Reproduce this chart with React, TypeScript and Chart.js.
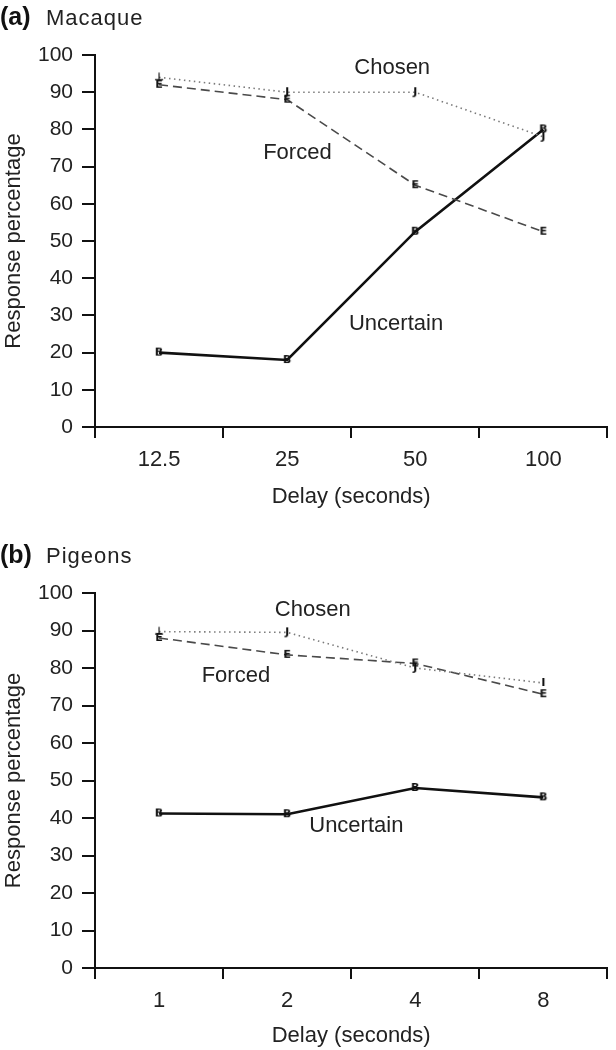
import React, { useEffect, useRef } from "react";
import { Chart, registerables } from "chart.js";

Chart.register(...registerables);

// ---- Data ----
const categoriesA = ["12.5", "25", "50", "100"];
const chosenA = [94, 90, 90, 78];
const forcedA = [92, 88, 65, 52.5];
const uncertainA = [20, 18, 52.5, 80];

const categoriesB = ["1", "2", "4", "8"];
const chosenB = [89.7, 89.5, 80, 76];
const forcedB = [88, 83.5, 81.2, 73];
const uncertainB = [41.2, 41, 48, 45.5];

const yTicks = [0, 10, 20, 30, 40, 50, 60, 70, 80, 90, 100];

const seriesNames = ["Chosen", "Forced", "Uncertain"];

// label anchors [category index, value]
const labelPosA = [
  [1.82, 96.5],
  [1.08, 73.6],
  [1.85, 27.6],
];
const labelPosB = [
  [1.2, 95.5],
  [0.6, 78],
  [1.54, 37.9],
];

const FONT = "'Liberation Sans', Arial, sans-serif";

function makeMarker(ch: string): HTMLCanvasElement {
  const c = document.createElement("canvas");
  c.width = 14;
  c.height = 14;
  const ctx = c.getContext("2d")!;
  ctx.fillStyle = "#111";
  ctx.font = "bold 11px 'DejaVu Sans', sans-serif";
  ctx.textAlign = "center";
  ctx.textBaseline = "middle";
  ctx.fillText(ch, 7, 7.5);
  return c;
}

type PanelProps = {
  top: number;
  height: number;
  chartTop: number;
  chartBottom: number;
  letter: string;
  name: string;
  titleBaseline: number;
  categories: string[];
  chosen: number[];
  forced: number[];
  uncertain: number[];
  labelPos: number[][];
  xTitlePad: number;
  chosenMarks: string[];
};

function Panel(p: PanelProps) {
  const ref = useRef<HTMLCanvasElement | null>(null);
  useEffect(() => {
    const canvas = ref.current!;
    const mE = makeMarker("E");
    const mB = makeMarker("B");
    const chosenStyles = p.chosenMarks.map((m) => makeMarker(m));

    const textPlugin = {
      id: "panelText",
      afterDatasetsDraw(chart: any) {
        const ctx = chart.ctx;
        const xs = chart.scales.x;
        const ys = chart.scales.y;
        ctx.save();
        ctx.fillStyle = "#222";
        ctx.font = `22px ${FONT}`;
        ctx.textAlign = "center";
        ctx.textBaseline = "middle";
        p.labelPos.forEach((pos, i) => {
          ctx.fillText(
            seriesNames[i],
            xs.getPixelForValue(pos[0]),
            ys.getPixelForValue(pos[1])
          );
        });
        ctx.textAlign = "left";
        ctx.textBaseline = "alphabetic";
        ctx.fillStyle = "#111";
        ctx.font = `bold 25px ${FONT}`;
        ctx.fillText(`(${p.letter})`, 0, p.titleBaseline);
        ctx.fillStyle = "#222";
        ctx.font = `22px ${FONT}`;
        try {
          (ctx as any).letterSpacing = "1px";
        } catch (e) {}
        ctx.fillText(p.name, 46, p.titleBaseline);
        ctx.restore();
      },
    };

    const chart = new Chart(canvas, {
      type: "line",
      data: {
        labels: p.categories,
        datasets: [
          {
            label: "Chosen",
            data: p.chosen,
            borderColor: "#7a7a7a",
            borderWidth: 1.6,
            borderDash: [1.5, 3.5],
            pointStyle: chosenStyles as any,
            pointRadius: 6,
            fill: false,
          },
          {
            label: "Forced",
            data: p.forced,
            borderColor: "#4a4a4a",
            borderWidth: 1.6,
            borderDash: [9, 5],
            pointStyle: mE as any,
            pointRadius: 6,
            fill: false,
          },
          {
            label: "Uncertain",
            data: p.uncertain,
            borderColor: "#111",
            borderWidth: 2.6,
            pointStyle: mB as any,
            pointRadius: 6,
            fill: false,
          },
        ],
      },
      options: {
        animation: false,
        responsive: false,
        maintainAspectRatio: false,
        layout: { padding: { top: p.chartTop, right: 1, left: 0, bottom: 0 } },
        plugins: {
          legend: { display: false },
          tooltip: { enabled: false },
          title: { display: false },
        },
        scales: {
          x: {
            type: "category",
            offset: true,
            grid: {
              display: true,
              offset: true,
              drawOnChartArea: false,
              drawTicks: true,
              tickLength: 11,
              color: "#111",
              lineWidth: 2,
            },
            border: { display: true, color: "#111", width: 2 },
            ticks: {
              color: "#222",
              font: { family: FONT, size: 22 },
              padding: 9,
              maxRotation: 0,
            },
            title: {
              display: true,
              text: "Delay (seconds)",
              color: "#222",
              font: { family: FONT, size: 22 },
              padding: { top: 0, bottom: p.xTitlePad },
            },
            afterFit(scale: any) {
              scale.height = p.height - p.chartBottom;
            },
          },
          y: {
            min: 0,
            max: 100,
            afterBuildTicks(scale: any) {
              scale.ticks = yTicks.map((v) => ({ value: v }));
            },
            grid: {
              display: true,
              drawOnChartArea: false,
              drawTicks: true,
              tickLength: 13,
              color: "#111",
              lineWidth: 2,
            },
            border: { display: true, color: "#111", width: 2 },
            ticks: {
              color: "#222",
              font: { family: FONT, size: 21 },
              padding: 9,
            },
            title: {
              display: true,
              text: "Response percentage",
              color: "#222",
              font: { family: FONT, size: 22 },
              padding: { top: 1, bottom: 0 },
            },
            afterFit(scale: any) {
              scale.width = 95;
            },
          },
        },
      },
      plugins: [textPlugin],
    } as any);
    return () => chart.destroy();
  }, []);
  return (
    <canvas
      ref={ref}
      width={616}
      height={p.height}
      style={{ position: "absolute", left: 0, top: p.top, width: 616, height: p.height }}
    />
  );
}

export default function App() {
  useEffect(() => {
    document.body.style.margin = "0";
    document.body.style.background = "#fff";
  }, []);
  return (
    <div style={{ position: "relative", width: 616, height: 1050, background: "#fff" }}>
      <Panel
        top={0}
        height={520}
        chartTop={55}
        chartBottom={427}
        letter="a"
        name="Macaque"
        titleBaseline={25}
        categories={categoriesA}
        chosen={chosenA}
        forced={forcedA}
        uncertain={uncertainA}
        labelPos={labelPosA}
        xTitlePad={10}
        chosenMarks={["⊥", "J", "J", "J"]}
      />
      <Panel
        top={520}
        height={530}
        chartTop={73}
        chartBottom={448}
        letter="b"
        name="Pigeons"
        titleBaseline={43}
        categories={categoriesB}
        chosen={chosenB}
        forced={forcedB}
        uncertain={uncertainB}
        labelPos={labelPosB}
        xTitlePad={1}
        chosenMarks={["⊥", "J", "J", "I"]}
      />
    </div>
  );
}
